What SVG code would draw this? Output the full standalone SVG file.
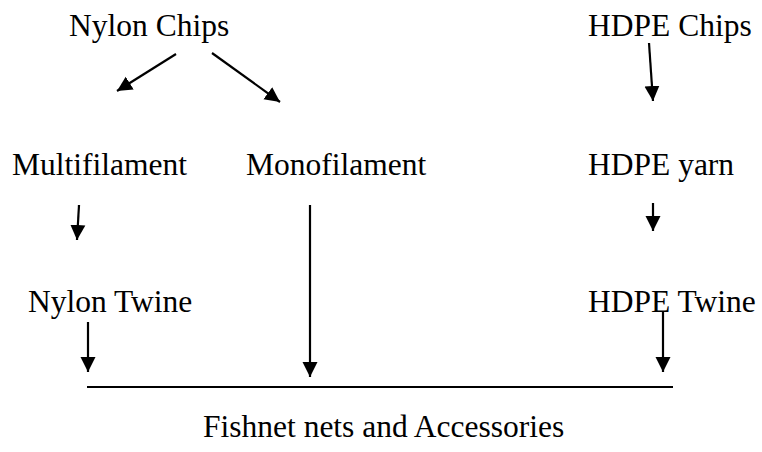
<svg xmlns="http://www.w3.org/2000/svg" width="762" height="452" viewBox="0 0 762 452">
<style>
text{font-family:"Liberation Serif","Times New Roman",serif;font-size:31.5px;fill:#000}
.c{stroke:#000;stroke-width:2.2;fill:none}
.a{marker-end:url(#ah)}
</style>
<defs>
<marker id="ah" markerUnits="userSpaceOnUse" markerWidth="16" markerHeight="16" refX="15" refY="7.5" orient="auto" viewBox="0 0 16 15">
<path d="M0,0 L15,7.5 L0,15 z" fill="#000"/>
</marker>
</defs>
<rect width="762" height="452" fill="#fff"/>
<g id="nylon-chips"><text x="69" y="36">Nylon Chips</text></g>
<g id="hdpe-chips"><text x="588" y="36">HDPE Chips</text></g>
<g id="multifilament"><text x="12" y="175">Multifilament</text></g>
<g id="monofilament"><text x="246" y="175">Monofilament</text></g>
<g id="hdpe-yarn"><text x="588" y="175">HDPE yarn</text></g>
<g id="nylon-twine"><text x="28" y="312">Nylon Twine</text></g>
<g id="hdpe-twine"><text x="588" y="312">HDPE Twine</text></g>
<g id="fishnet"><text x="203" y="437">Fishnet nets and Accessories</text></g>
<g id="connectors">
<line class="c a" x1="176" y1="54" x2="117" y2="91"/>
<line class="c a" x1="212" y1="53" x2="280" y2="102"/>
<line class="c a" x1="649" y1="43" x2="653" y2="101"/>
<line class="c a" x1="79" y1="205" x2="77" y2="240"/>
<line class="c a" x1="310" y1="205" x2="310" y2="377"/>
<line class="c a" x1="653" y1="203" x2="653" y2="231"/>
<line class="c a" x1="88" y1="322" x2="88" y2="372"/>
<line class="c a" x1="663" y1="312" x2="663" y2="372"/>
<line class="c" x1="87" y1="387" x2="673" y2="387"/>
</g>
</svg>
